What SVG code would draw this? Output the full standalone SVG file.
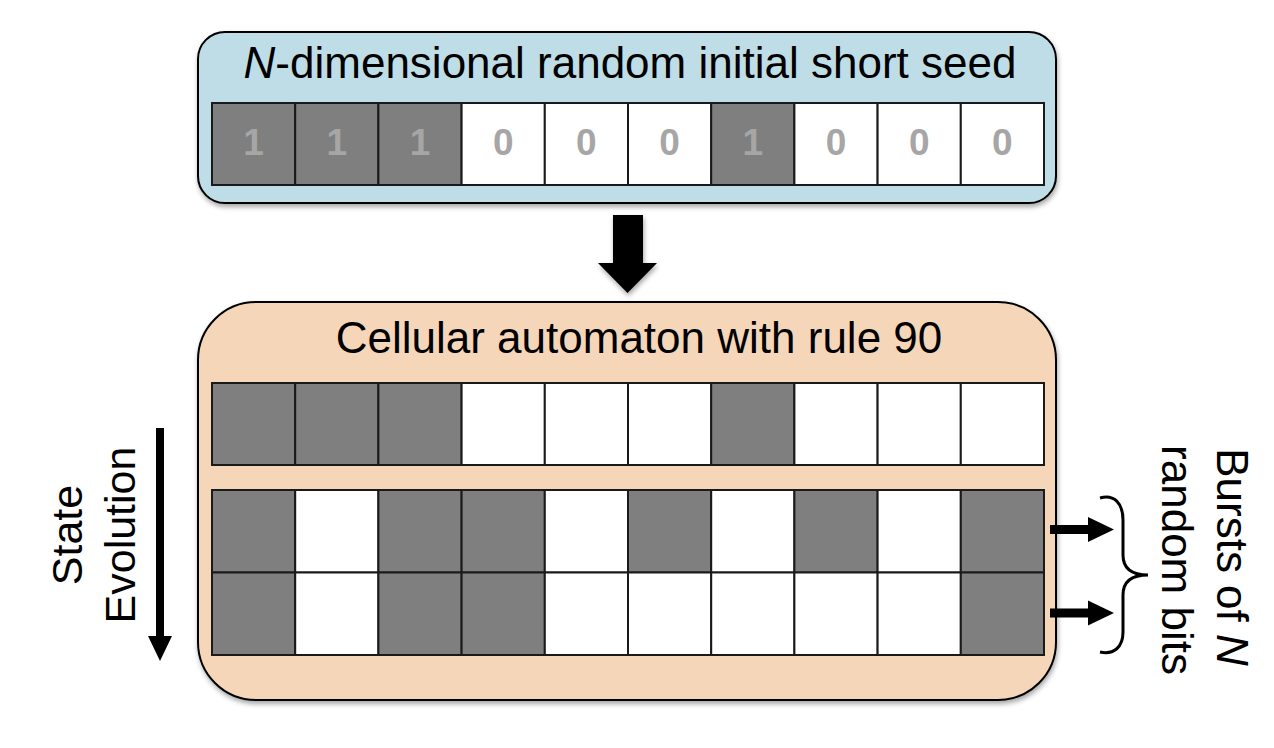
<svg xmlns="http://www.w3.org/2000/svg" width="1274" height="748" viewBox="0 0 1274 748">
<defs>
<style>
.t{font-family:"Liberation Sans",Arial,sans-serif;fill:#000}
.dig{font-family:"Liberation Sans",Arial,sans-serif;font-weight:bold;font-size:37px;fill:#a6a6a6;text-anchor:middle}
.on{fill:#7f7f7f;stroke:#1a1a1a;stroke-width:2}
.off{fill:#ffffff;stroke:#1a1a1a;stroke-width:2}
.box{stroke:#000;stroke-width:2}
</style>
<filter id="sh" x="-5%" y="-5%" width="110%" height="115%">
<feDropShadow dx="1" dy="3" stdDeviation="2.5" flood-color="#000" flood-opacity="0.35"/>
</filter>
</defs>
<rect width="1274" height="748" fill="#fff"/>

<g id="seed">
<rect class="box" x="198" y="32" width="858" height="171" rx="27" fill="#bedde6" filter="url(#sh)"/>
<text class="t" x="630" y="78" font-size="44" text-anchor="middle"><tspan font-style="italic">N</tspan>-dimensional random initial short seed</text>
<rect class="on" x="212" y="103" width="83.2" height="82"/>
<rect class="on" x="295.2" y="103" width="83.2" height="82"/>
<rect class="on" x="378.4" y="103" width="83.2" height="82"/>
<rect class="off" x="461.6" y="103" width="83.2" height="82"/>
<rect class="off" x="544.8" y="103" width="83.2" height="82"/>
<rect class="off" x="628" y="103" width="83.2" height="82"/>
<rect class="on" x="711.2" y="103" width="83.2" height="82"/>
<rect class="off" x="794.4" y="103" width="83.2" height="82"/>
<rect class="off" x="877.6" y="103" width="83.2" height="82"/>
<rect class="off" x="960.8" y="103" width="83.2" height="82"/>
<text class="dig" x="253.6" y="155">1</text>
<text class="dig" x="336.8" y="155">1</text>
<text class="dig" x="420" y="155">1</text>
<text class="dig" x="503.2" y="155">0</text>
<text class="dig" x="586.4" y="155">0</text>
<text class="dig" x="669.6" y="155">0</text>
<text class="dig" x="752.8" y="155">1</text>
<text class="dig" x="836" y="155">0</text>
<text class="dig" x="919.2" y="155">0</text>
<text class="dig" x="1002.4" y="155">0</text>
</g>

<g id="automaton">
<rect class="box" x="198" y="302" width="858" height="398" rx="58" fill="#f6d6b8" filter="url(#sh)"/>
<text class="t" x="639" y="353" font-size="44" text-anchor="middle">Cellular automaton with rule 90</text>
<g id="row1">
<rect class="on" x="212" y="383" width="83.2" height="82"/>
<rect class="on" x="295.2" y="383" width="83.2" height="82"/>
<rect class="on" x="378.4" y="383" width="83.2" height="82"/>
<rect class="off" x="461.6" y="383" width="83.2" height="82"/>
<rect class="off" x="544.8" y="383" width="83.2" height="82"/>
<rect class="off" x="628" y="383" width="83.2" height="82"/>
<rect class="on" x="711.2" y="383" width="83.2" height="82"/>
<rect class="off" x="794.4" y="383" width="83.2" height="82"/>
<rect class="off" x="877.6" y="383" width="83.2" height="82"/>
<rect class="off" x="960.8" y="383" width="83.2" height="82"/>
</g>
<g id="row2">
<rect class="on" x="212" y="490" width="83.2" height="82.5"/>
<rect class="off" x="295.2" y="490" width="83.2" height="82.5"/>
<rect class="on" x="378.4" y="490" width="83.2" height="82.5"/>
<rect class="on" x="461.6" y="490" width="83.2" height="82.5"/>
<rect class="off" x="544.8" y="490" width="83.2" height="82.5"/>
<rect class="on" x="628" y="490" width="83.2" height="82.5"/>
<rect class="off" x="711.2" y="490" width="83.2" height="82.5"/>
<rect class="on" x="794.4" y="490" width="83.2" height="82.5"/>
<rect class="off" x="877.6" y="490" width="83.2" height="82.5"/>
<rect class="on" x="960.8" y="490" width="83.2" height="82.5"/>
</g>
<g id="row3">
<rect class="on" x="212" y="572.5" width="83.2" height="82.5"/>
<rect class="off" x="295.2" y="572.5" width="83.2" height="82.5"/>
<rect class="on" x="378.4" y="572.5" width="83.2" height="82.5"/>
<rect class="on" x="461.6" y="572.5" width="83.2" height="82.5"/>
<rect class="off" x="544.8" y="572.5" width="83.2" height="82.5"/>
<rect class="off" x="628" y="572.5" width="83.2" height="82.5"/>
<rect class="off" x="711.2" y="572.5" width="83.2" height="82.5"/>
<rect class="off" x="794.4" y="572.5" width="83.2" height="82.5"/>
<rect class="off" x="877.6" y="572.5" width="83.2" height="82.5"/>
<rect class="on" x="960.8" y="572.5" width="83.2" height="82.5"/>
</g>
</g>

<g id="connectors">
<polygon points="613,215 643,215 643,263 657,263 627.5,293 598,263 613,263" fill="#000" filter="url(#sh)"/>
<polygon points="156,428 164,428 164,636 172,636 160,661 148,636 156,636" fill="#000"/>
<polygon points="1050,525 1088,525 1088,517 1114,529.5 1088,542 1088,534 1050,534" fill="#000"/>
<polygon points="1050,608.5 1088,608.5 1088,600.5 1114,613 1088,625.5 1088,617.5 1050,617.5" fill="#000"/>
<path d="M1100,498 C1114,494 1123,503 1123,520 L1123,555 C1123,568 1131,575 1148,575 C1131,575 1123,582 1123,595 L1123,632 C1123,647 1114,655 1100,652" fill="none" stroke="#000" stroke-width="3"/>
</g>

<g id="labels">
<text class="t" font-size="43" text-anchor="middle" transform="translate(82,535) rotate(-90)">State</text>
<text class="t" font-size="43" text-anchor="middle" transform="translate(135,535) rotate(-90)">Evolution</text>
<text class="t" font-size="44" text-anchor="middle" transform="translate(1217,557) rotate(90)">Bursts of <tspan font-style="italic">N</tspan></text>
<text class="t" font-size="44" text-anchor="middle" transform="translate(1162,560) rotate(90)">random bits</text>
</g>
</svg>
